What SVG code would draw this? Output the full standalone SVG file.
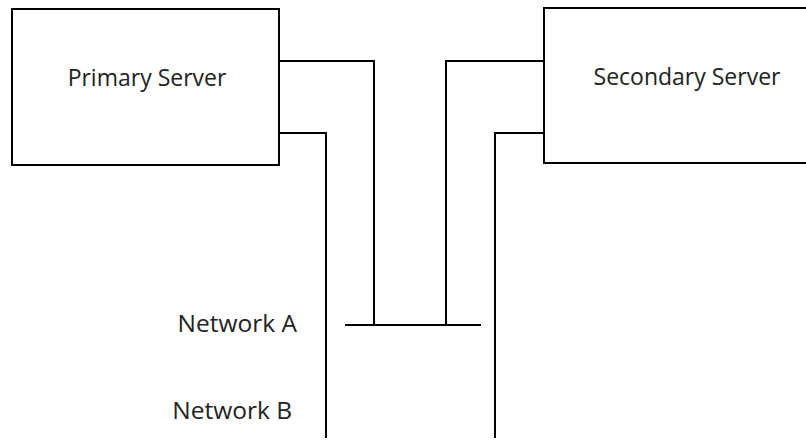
<svg xmlns="http://www.w3.org/2000/svg" width="806" height="441" viewBox="0 0 806 441">
<style>
.box{fill:#fff;stroke:#000;stroke-width:2}
.ln{fill:none;stroke:#000;stroke-width:2}
text{font-family:"Open Sans","Noto Sans",sans-serif;font-size:23px;fill:#222}
.net{font-size:24.5px}
</style>
<rect width="806" height="441" fill="#fff"/>
<g id="connectors">
<polyline class="ln" points="279,61 374,61 374,325"/>
<polyline class="ln" points="279,133 326,133 326,438"/>
<polyline class="ln" points="544,61 446,61 446,325"/>
<polyline class="ln" points="544,133 495,133 495,438"/>
<line class="ln" x1="345" y1="325" x2="481" y2="325"/>
</g>
<g id="primary">
<rect class="box" x="12" y="9" width="267" height="156"/>
<text x="147" y="86" text-anchor="middle">Primary Server</text>
</g>
<g id="secondary">
<rect class="box" x="544" y="8" width="270" height="155"/>
<text x="687" y="85" text-anchor="middle">Secondary Server</text>
</g>
<g id="networkA">
<text class="net" x="297" y="332" text-anchor="end">Network A</text>
</g>
<g id="networkB">
<text class="net" x="292" y="419" text-anchor="end">Network B</text>
</g>
</svg>
